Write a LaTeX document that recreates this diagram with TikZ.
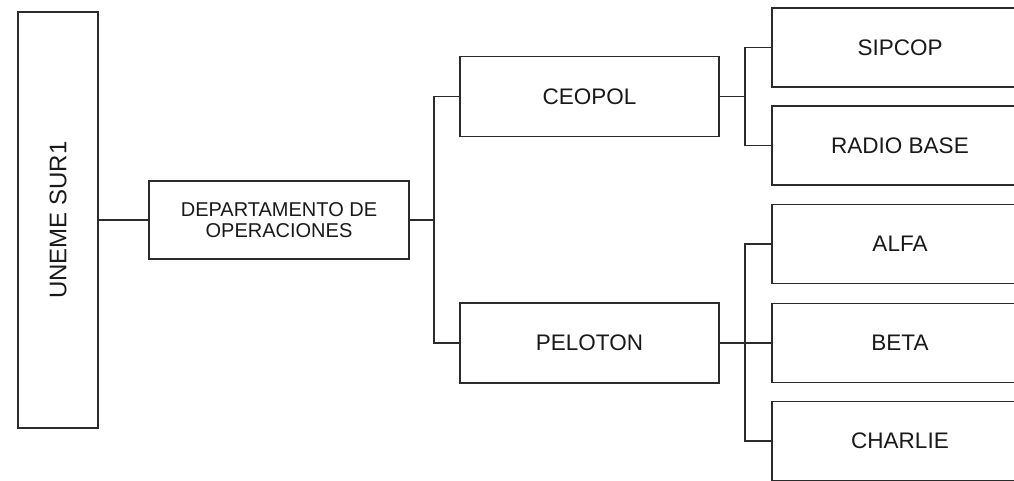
\documentclass[tikz,border=0pt]{standalone}
\usepackage{fontspec}
\setmainfont{Liberation Sans}
\usetikzlibrary{calc}
\definecolor{linegray}{HTML}{2B2B2B}
\tikzstyle{unit}=[draw=linegray, line width=1.4pt, inner sep=0pt, outer sep=0pt,
                  text=black!90, font=\fontsize{22.5}{24}\selectfont]
\tikzstyle{branch}=[unit, minimum width=259pt, minimum height=80pt]
\tikzstyle{leaf}=[unit, minimum width=256pt, minimum height=79pt]
\tikzstyle{link}=[draw=linegray, line width=1.4pt]

\begin{document}
\begin{tikzpicture}[x=1pt,y=-1pt]

  % Page size
  \useasboundingbox (0,0) rectangle (1014,480);

  % Boxes
  \node[unit, minimum width=80pt, minimum height=416pt] at (58,220) (nodeUneme)
       {\rotatebox{90}{\fontsize{24}{26}\selectfont UNEME SUR1}};
  \node[unit, minimum width=260pt, minimum height=78pt, align=center,
        font=\fontsize{20}{21}\selectfont] at (279,220) (nodeDep)
       {DEPARTAMENTO DE\\OPERACIONES};

  \node[branch] at (589.5,96.5) (nodeCeopol)  {CEOPOL};
  \node[branch] at (589.5,343)  (nodePeloton) {PELOTON};

  \node[leaf] at (900,47.5)  (nodeSipcop)  {SIPCOP};
  \node[leaf] at (900,145.5) (nodeRadio)   {RADIO BASE};
  \node[leaf] at (900,244)   (nodeAlfa)    {ALFA};
  \node[leaf] at (900,343)   (nodeBeta)    {BETA};
  \node[leaf] at (900,441)   (nodeCharlie) {CHARLIE};

  % Connectors
  \draw[link] (nodeUneme.east |- nodeDep.west) -- (nodeDep.west);
  \draw[link] (nodeDep.east) -- ++(25,0) |- (nodeCeopol.west);
  \draw[link] (nodeDep.east) -- ++(25,0) |- (nodePeloton.west);

  \draw[link] (nodeCeopol.east) -- ++(26,0) |- (nodeSipcop.west);
  \draw[link] (nodeCeopol.east) -- ++(26,0) |- (nodeRadio.west);

  \draw[link] (nodePeloton.east) -- ++(26,0) |- (nodeAlfa.west);
  \draw[link] (nodePeloton.east) -- (nodeBeta.west);
  \draw[link] (nodePeloton.east) -- ++(26,0) |- (nodeCharlie.west);

\end{tikzpicture}
\end{document}
